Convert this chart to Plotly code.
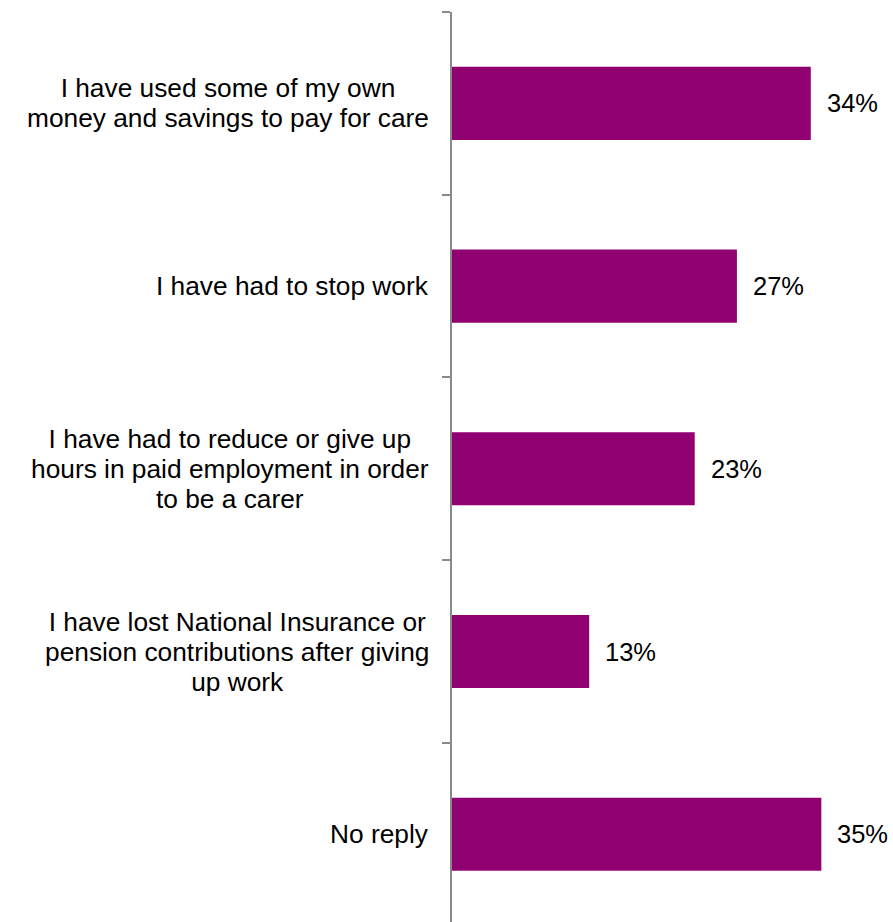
import plotly.graph_objects as go

categories = [
    "I have used some of my own<br>money and savings to pay for care",
    "I have had to stop work",
    "I have had to reduce or give up<br>hours in paid employment in order<br>to be a carer",
    "I have lost National Insurance or<br>pension contributions after giving<br>up work",
    "No reply",
]
values = [34, 27, 23, 13, 35]

BAR_COLOR = "#910070"
AXIS_COLOR = "#8a8a8a"
FONT = "Liberation Sans, Arial, sans-serif"
TEXT_PX = 26.3   # rendered glyph size
LINE_BASE = 23   # base size that sets the line pitch (~30 px)

fig = go.Figure(
    go.Bar(
        x=values,
        y=categories,
        orientation="h",
        marker=dict(color=BAR_COLOR, line=dict(width=0)),
        hoverinfo="skip",
    )
)


def sized(label):
    lines = label.split("<br>")
    return "<br>".join(
        f"<span style='font-size:{TEXT_PX}px'>{ln}</span>" for ln in lines
    )


# category labels: right-aligned block, centred lines
for cat in categories:
    fig.add_annotation(
        x=0, xref="paper", y=cat, yref="y",
        text=sized(cat), showarrow=False,
        xanchor="right", yanchor="middle", align="center",
        xshift=-21,
        font=dict(family=FONT, size=LINE_BASE, color="#000000"),
    )

# value labels to the right of each bar
for cat, v in zip(categories, values):
    fig.add_annotation(
        x=v, xref="x", y=cat, yref="y",
        text=f"{v}%", showarrow=False,
        xanchor="left", yanchor="middle",
        xshift=14,
        font=dict(family=FONT, size=25.5, color="#000000"),
    )

fig.update_layout(
    width=893,
    height=922,
    margin=dict(l=452, r=40, t=12, b=0),
    paper_bgcolor="white",
    plot_bgcolor="white",
    bargap=0.6,
    showlegend=False,
    font=dict(family=FONT, size=25, color="#000000"),
)

fig.update_xaxes(
    range=[0, 38],
    showgrid=False, zeroline=False, showline=False,
    showticklabels=False, ticks="",
)

fig.update_yaxes(
    type="category",
    categoryorder="array",
    categoryarray=categories,
    range=[4.48, -0.5],
    tickson="boundaries",
    ticks="outside",
    ticklen=8,
    tickwidth=2,
    tickcolor=AXIS_COLOR,
    showline=True,
    linecolor=AXIS_COLOR,
    linewidth=2,
    showgrid=False,
    zeroline=False,
    showticklabels=False,
)

fig.write_html("out.html")
